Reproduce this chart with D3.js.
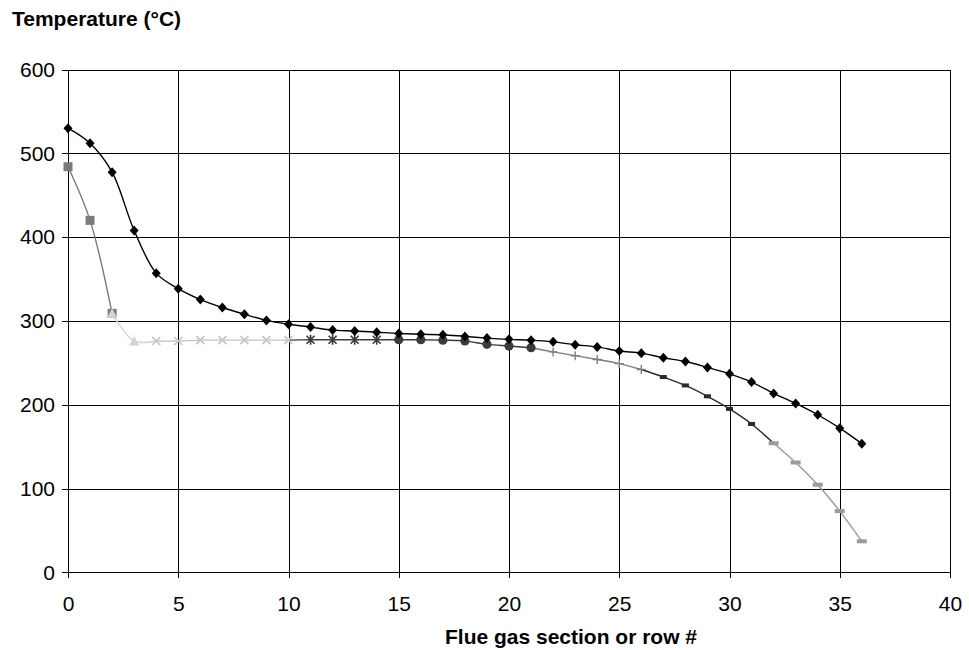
<!DOCTYPE html>
<html>
<head>
<meta charset="utf-8">
<script src="https://cdn.jsdelivr.net/npm/d3@7"></script>
<style>
  html, body { margin: 0; padding: 0; background: #fff; }
  svg { display: block; font-family: "Liberation Sans", Arial, sans-serif; }
</style>
</head>
<body>
<svg id="chart" width="969" height="650"></svg>
<script>
// Row index along the flue gas path
const rows = d3.range(0, 37);

// Tube-side (black diamonds) temperature per row, °C
const tubeTemp = [530, 512, 477.5, 408, 357, 338.5, 325.5, 316, 308, 300.6,
  296, 292.6, 289, 288, 286.5, 285, 284, 283.5, 281.5, 279.5,
  278, 277, 275, 271.5, 269, 264, 261.5, 256, 251.5, 244.5,
  236.8, 227, 213.5, 201.5, 188, 172, 153.5];

// Flue gas temperature per row, °C
const gasTemp = [484, 420, 309, 276, 276, 276, 277, 277, 277, 277,
  277, 277.5, 277.5, 277.5, 277.5, 277.5, 277.5, 277, 276, 272,
  270, 268, 263, 258.5, 254, 249, 242, 233, 223, 210,
  195, 177, 154, 131, 104.5, 73, 37];

// Flue gas sections: line span [from, to] and marker span [mFrom, mTo] (row indices)
const sectionNames  = ["radiant", "shield", "convA", "convB", "convC", "convD", "econA", "econB"];
const sectionLine   = [[0, 2], [2, 4], [4, 10], [10, 15], [15, 21], [21, 26], [26, 32], [32, 36]];
const sectionMarks  = [[0, 2], [2, 3], [4, 10], [11, 14], [15, 21], [22, 26], [27, 31], [32, 36]];
const sectionSymbol = ["square", "triangle", "cross", "star", "circle", "plus", "dashDark", "dash"];
const sectionColor  = ["#7a7a7a", "#d4d4d4", "#c4c4c4", "#3c3c3c", "#3a3a3a", "#7e7e7e", "#2a2a2a", "#9a9a9a"];

const xTicks = d3.range(0, 41, 5);
const yTicks = d3.range(0, 601, 100);

const svg = d3.select("#chart");
const margin = { left: 68, right: 19, top: 69.5, bottom: 77.7 };
const W = 969, H = 650;
const x = d3.scaleLinear().domain([0, 40]).range([margin.left, W - margin.right]);
const y = d3.scaleLinear().domain([0, 600]).range([H - margin.bottom, margin.top]);

// Gridlines
svg.append("g")
  .attr("transform", `translate(0,${y(0)})`)
  .call(d3.axisBottom(x).tickValues(xTicks).tickSize(-(y(0) - y(600))).tickFormat(""))
  .call(g => g.select(".domain").remove())
  .call(g => g.selectAll("line").attr("stroke", "#000").attr("stroke-width", 1).attr("shape-rendering", "crispEdges"));
svg.append("g")
  .attr("transform", `translate(${x(0)},0)`)
  .call(d3.axisLeft(y).tickValues(yTicks).tickSize(-(x(40) - x(0))).tickFormat(""))
  .call(g => g.select(".domain").remove())
  .call(g => g.selectAll("line").attr("stroke", "#000").attr("stroke-width", 1).attr("shape-rendering", "crispEdges"));

// Axes with outer ticks and labels
const xAxis = svg.append("g")
  .attr("transform", `translate(0,${y(0)})`)
  .call(d3.axisBottom(x).tickValues(xTicks).tickSize(6).tickPadding(18).tickFormat(d3.format("d")));
const yAxis = svg.append("g")
  .attr("transform", `translate(${x(0)},0)`)
  .call(d3.axisLeft(y).tickValues(yTicks).tickSize(6).tickPadding(7).tickFormat(d3.format("d")));
[xAxis, yAxis].forEach(a => {
  a.selectAll("path.domain").attr("stroke", "#000").attr("shape-rendering", "crispEdges");
  a.selectAll("line").attr("stroke", "#000").attr("shape-rendering", "crispEdges");
  a.selectAll("text").attr("font-size", 21).attr("fill", "#000")
    .attr("font-family", "'Liberation Sans', Arial, sans-serif");
});

// Titles
svg.append("text").attr("x", 12).attr("y", 26)
  .attr("font-size", 21).attr("font-weight", "bold").text("Temperature (°C)");
svg.append("text").attr("x", 571).attr("y", 644).attr("text-anchor", "middle")
  .attr("font-size", 21).attr("font-weight", "bold").text("Flue gas section or row #");

const smooth = d3.line()
  .x(d => x(d[0])).y(d => y(d[1]))
  .curve(d3.curveCatmullRom.alpha(0.5));

// Flue gas line segments
sectionNames.forEach((name, i) => {
  const [a, b] = sectionLine[i];
  const pts = rows.slice(a, b + 1).map(r => [r, gasTemp[r]]);
  svg.append("path").attr("class", "gas-" + name)
    .attr("d", smooth(pts)).attr("fill", "none")
    .attr("stroke", sectionColor[i]).attr("stroke-width", 1.4);
});

// Tube temperature line
svg.append("path")
  .attr("d", smooth(rows.map(r => [r, tubeTemp[r]])))
  .attr("fill", "none").attr("stroke", "#000").attr("stroke-width", 1.4);

// Marker drawing
function drawMarker(g, kind, cx, cy, color) {
  switch (kind) {
    case "square":
      g.append("rect").attr("x", cx - 4.5).attr("y", cy - 4.5).attr("width", 9).attr("height", 9).attr("fill", color);
      break;
    case "triangle":
      g.append("path").attr("d", `M${cx},${cy - 5}L${cx + 5},${cy + 4.5}L${cx - 5},${cy + 4.5}Z`).attr("fill", color);
      break;
    case "cross":
      g.append("path").attr("d", `M${cx - 4},${cy - 4}L${cx + 4},${cy + 4}M${cx - 4},${cy + 4}L${cx + 4},${cy - 4}`)
        .attr("stroke", color).attr("stroke-width", 1.6).attr("fill", "none");
      break;
    case "star":
      g.append("path").attr("d", `M${cx - 4},${cy - 4}L${cx + 4},${cy + 4}M${cx - 4},${cy + 4}L${cx + 4},${cy - 4}M${cx},${cy - 5}L${cx},${cy + 5}`)
        .attr("stroke", color).attr("stroke-width", 1.7).attr("fill", "none");
      break;
    case "circle":
      g.append("circle").attr("cx", cx).attr("cy", cy).attr("r", 4.6).attr("fill", color);
      break;
    case "plus":
      g.append("path").attr("d", `M${cx - 4.5},${cy}L${cx + 4.5},${cy}M${cx},${cy - 4.5}L${cx},${cy + 4.5}`)
        .attr("stroke", color).attr("stroke-width", 1.4).attr("fill", "none");
      break;
    case "dashDark":
      g.append("rect").attr("x", cx - 3.5).attr("y", cy - 2).attr("width", 7).attr("height", 4).attr("fill", color);
      break;
    case "dash":
      g.append("rect").attr("x", cx - 5).attr("y", cy - 2).attr("width", 10).attr("height", 4).attr("fill", color);
      break;
  }
}

sectionNames.forEach((name, i) => {
  const [a, b] = sectionMarks[i];
  const g = svg.append("g").attr("class", "marks-" + name);
  rows.slice(a, b + 1).forEach(r => drawMarker(g, sectionSymbol[i], x(r), y(gasTemp[r]), sectionColor[i]));
});

// Diamonds on the tube line
svg.append("g").selectAll("path").data(rows).join("path")
  .attr("d", r => {
    const cx = x(r), cy = y(tubeTemp[r]);
    return `M${cx},${cy - 5}L${cx + 4.5},${cy}L${cx},${cy + 5}L${cx - 4.5},${cy}Z`;
  })
  .attr("fill", "#000");
</script>
</body>
</html>
